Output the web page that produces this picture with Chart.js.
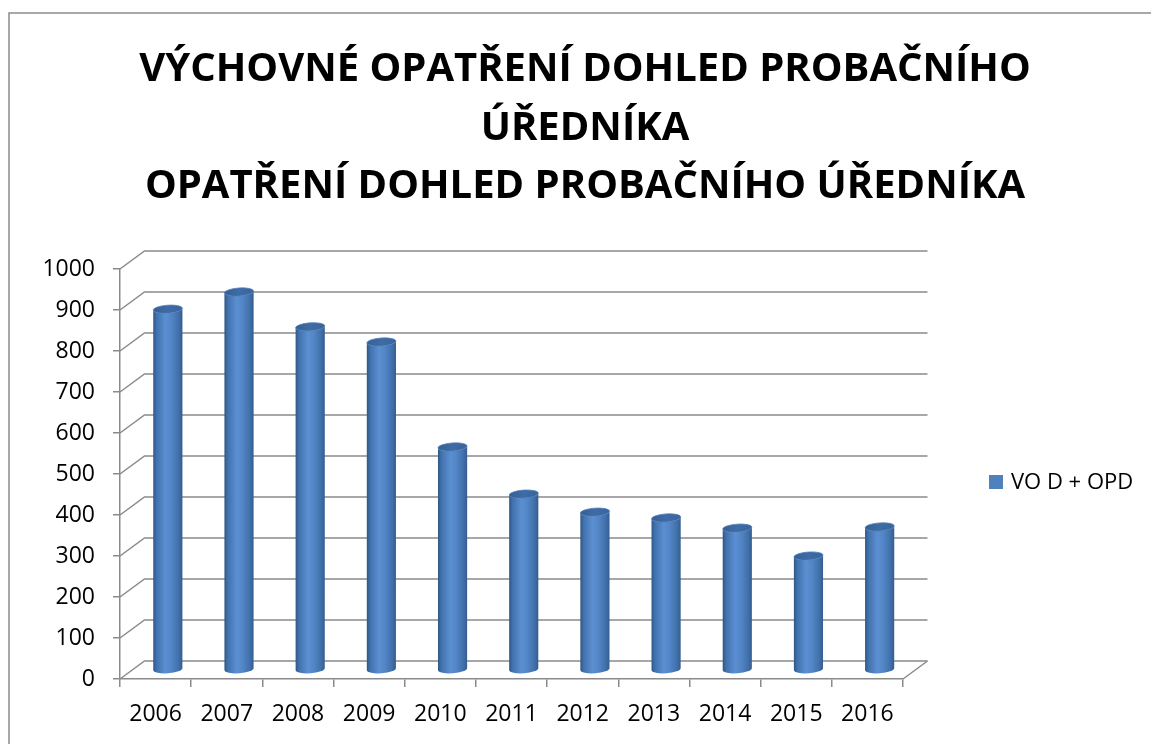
<!DOCTYPE html>
<html lang="cs">
<head>
<meta charset="utf-8">
<title>Výchovné opatření dohled probačního úředníka</title>
<script src="https://cdn.jsdelivr.net/npm/chart.js@4.4.1/dist/chart.umd.min.js"></script>
<style>
  html, body { margin: 0; padding: 0; background: #fff; }
  #wrap { position: relative; width: 1151px; height: 744px; }
</style>
</head>
<body>
<div id="wrap"><canvas id="chart" width="1151" height="744"></canvas></div>
<script>
// data
const years = ['2006', '2007', '2008', '2009', '2010', '2011', '2012', '2013', '2014', '2015', '2016'];
const vodOpd = [880, 922, 837, 800, 544, 429, 385, 371, 346, 278, 349];
const seriesLabel = 'VO D + OPD';
const titleLines = [
    'VÝCHOVNÉ OPATŘENÍ DOHLED PROBAČNÍHO',
    'ÚŘEDNÍKA',
    'OPATŘENÍ DOHLED PROBAČNÍHO ÚŘEDNÍKA'
];
const yMin = 0;
const yMax = 1000;
const yStep = 100;

// looks
const GRID = '#8a8a8a';
const SERIES_COLOR = '#4F81BD';
const FONT = '"Open Sans", "Noto Sans", sans-serif';
const DEPTH_X = 24.5;   // back wall offset
const DEPTH_Y = -18;

// gradient for the cylinder body, left to right
function bodyGradient(ctx, x0, x1) {
    const g = ctx.createLinearGradient(x0, 0, x1, 0);
    g.addColorStop(0, '#2f5785');
    g.addColorStop(0.12, '#4272ae');
    g.addColorStop(0.42, '#5b8fd1');
    g.addColorStop(0.62, '#5386c7');
    g.addColorStop(0.86, '#4271ab');
    g.addColorStop(1, '#345d8f');
    return g;
}

function drawCylinder(ctx, cx, topY, botY, r, ry, tilt) {
    ctx.save();
    ctx.beginPath();
    ctx.moveTo(cx - r, topY);
    ctx.lineTo(cx - r, botY);
    ctx.ellipse(cx, botY, r, ry, tilt, Math.PI, 0, true);
    ctx.lineTo(cx + r, topY);
    ctx.ellipse(cx, topY, r, ry, tilt, 0, Math.PI, false);
    ctx.closePath();
    ctx.fillStyle = bodyGradient(ctx, cx - r, cx + r);
    ctx.fill();

    // top cap
    ctx.beginPath();
    ctx.ellipse(cx, topY, r, ry, tilt, 0, Math.PI * 2);
    const tg = ctx.createLinearGradient(cx - r, 0, cx + r, 0);
    tg.addColorStop(0, '#365f93');
    tg.addColorStop(0.5, '#3f6ca6');
    tg.addColorStop(1, '#3a649b');
    ctx.fillStyle = tg;
    ctx.fill();
    ctx.lineWidth = 0.8;
    ctx.strokeStyle = '#4d7db9';
    ctx.stroke();
    ctx.restore();
}

const excel3d = {
    id: 'excel3d',
    beforeDraw(chart) {
        const ctx = chart.ctx;
        ctx.save();
        ctx.fillStyle = '#fff';
        ctx.fillRect(0, 0, chart.width, chart.height);

        // outer chart border
        ctx.strokeStyle = '#8c8c8c';
        ctx.lineWidth = 1.5;
        ctx.strokeRect(9, 13, chart.width + 20, chart.height + 20);

        // title
        ctx.fillStyle = '#000';
        ctx.font = 'bold 40px ' + FONT;
        ctx.textAlign = 'center';
        ctx.textBaseline = 'alphabetic';
        const baselines = [81, 139.5, 198];
        titleLines.forEach((line, i) => ctx.fillText(line, 585, baselines[i]));

        // legend
        ctx.fillStyle = SERIES_COLOR;
        ctx.fillRect(989, 475, 14, 14);
        ctx.fillStyle = '#000';
        ctx.font = '22px ' + FONT;
        ctx.textAlign = 'left';
        ctx.fillText(chart.data.datasets[0].label, 1011, 489);
        ctx.restore();
    },
    beforeDatasetsDraw(chart) {
        const ctx = chart.ctx;
        const y = chart.scales.y;
        const area = chart.chartArea;
        ctx.save();
        ctx.strokeStyle = GRID;
        ctx.lineWidth = 1.5;
        y.ticks.forEach(t => {
            const py = y.getPixelForValue(t.value);
            ctx.beginPath();
            ctx.moveTo(area.left, py);
            ctx.lineTo(area.left + DEPTH_X, py + DEPTH_Y);
            ctx.lineTo(area.right + DEPTH_X, py + DEPTH_Y);
            ctx.stroke();
        });
        // right edge of the floor
        const p0 = y.getPixelForValue(yMin);
        ctx.beginPath();
        ctx.moveTo(area.right, p0);
        ctx.lineTo(area.right + DEPTH_X, p0 + DEPTH_Y);
        ctx.stroke();
        ctx.restore();
    },
    afterDatasetsDraw(chart) {
        const ctx = chart.ctx;
        const meta = chart.getDatasetMeta(0);
        meta.data.forEach(bar => {
            const p = bar.getProps(['x', 'y', 'base', 'width'], true);
            const cx = p.x + DEPTH_X / 2;
            drawCylinder(ctx, cx, p.y + DEPTH_Y / 2, p.base + DEPTH_Y / 2, p.width / 2, 4, -0.07);
        });
    }
};

new Chart(document.getElementById('chart'), {
    type: 'bar',
    data: {
        labels: years,
        datasets: [{
            label: seriesLabel,
            data: vodOpd,
            backgroundColor: 'rgba(0,0,0,0)',
            borderWidth: 0,
            barPercentage: 0.41,
            categoryPercentage: 1
        }]
    },
    options: {
        responsive: false,
        animation: false,
        layout: { padding: { top: 269, right: 248, bottom: 0, left: 0 } },
        plugins: {
            legend: { display: false },
            title: { display: false },
            tooltip: { enabled: false }
        },
        scales: {
            x: {
                grid: { display: true, drawOnChartArea: false, tickLength: 8, color: GRID, lineWidth: 1.5, offset: true },
                border: { display: true, color: GRID, width: 1.5 },
                ticks: { color: '#000', font: { family: FONT, size: 23 }, padding: 14, maxRotation: 0, autoSkip: false },
                afterFit(scale) { scale.height = 65; }
            },
            y: {
                min: yMin,
                max: yMax,
                grid: { display: true, drawOnChartArea: false, tickLength: 7, color: GRID, lineWidth: 1.5 },
                border: { display: true, color: GRID, width: 1.5 },
                ticks: {
                    stepSize: yStep,
                    color: '#000',
                    font: { family: FONT, size: 23 },
                    padding: 18,
                    callback: v => String(v)
                },
                afterFit(scale) { scale.width = 120; }
            }
        }
    },
    plugins: [excel3d]
});
</script>
</body>
</html>
